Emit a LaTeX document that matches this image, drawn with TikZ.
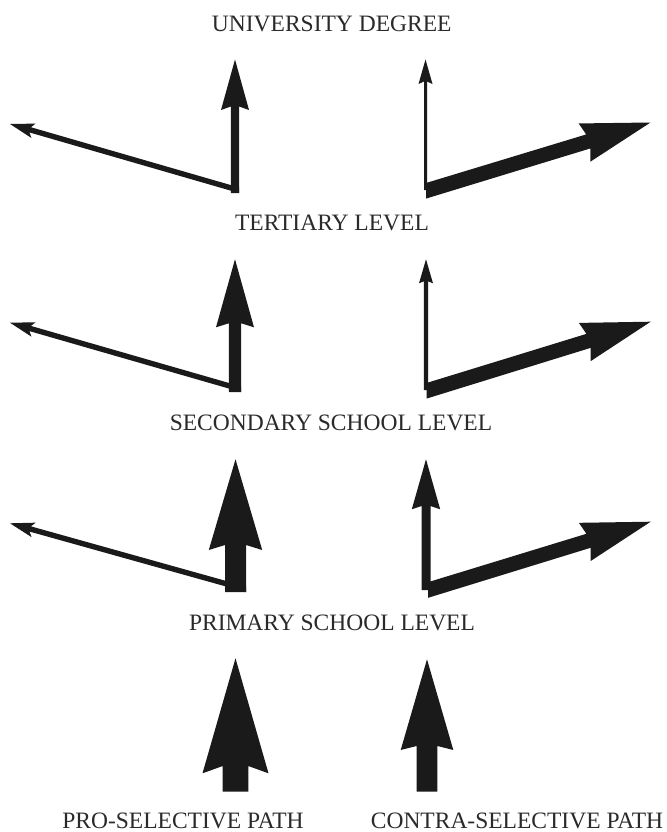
\documentclass[tikz,border=0pt]{standalone}
\usepackage{fontspec}
\setmainfont{Liberation Serif}
\usetikzlibrary{calc}
\definecolor{ink}{HTML}{1A1A1A}
\definecolor{txt}{HTML}{2A2A2A}
\tikzset{
  arrowfill/.style={fill=ink},
  lbl/.style={anchor=base, text=txt, inner sep=0pt, font=\fontsize{23.5bp}{28bp}\selectfont}
}
% vertical arrow: centre x, tip y, bottom y, shaft half-width, head half-width, notch length, barb length
\newcommand{\vertarrow}[7]{%
  \fill[arrowfill] ({#1-#4},#3) -- ({#1-#4},{#2+#6}) -- ({#1-#5},{#2+#7}) -- (#1,#2)
    -- ({#1+#5},{#2+#7}) -- ({#1+#4},{#2+#6}) -- ({#1+#4},#3) -- cycle;
}
% rightward slanted arrow: name, start, tip, vertical half-cut, shaft half-width, head half-width, notch length, barb length
\newcommand{\rarrow}[8]{%
  \coordinate (#1S) at #2;
  \coordinate (#1T) at #3;
  \coordinate (#1N) at ($(#1T)!#7bp!(#1S)$);
  \coordinate (#1C) at ($(#1T)!#8bp!(#1S)$);
  \fill[arrowfill] ($(#1S)+(0,-#4)$) -- ($(#1N)!#5bp!90:(#1T)$) -- ($(#1C)!#6bp!90:(#1T)$) -- (#1T)
    -- ($(#1C)!#6bp!-90:(#1T)$) -- ($(#1N)!#5bp!-90:(#1T)$) -- ($(#1S)+(0,#4)$) -- cycle;
}
% leftward slanted arrow
\newcommand{\larrow}[8]{%
  \coordinate (#1S) at #2;
  \coordinate (#1T) at #3;
  \coordinate (#1N) at ($(#1T)!#7bp!(#1S)$);
  \coordinate (#1C) at ($(#1T)!#8bp!(#1S)$);
  \fill[arrowfill] ($(#1S)+(0,-#4)$) -- ($(#1N)!#5bp!-90:(#1T)$) -- ($(#1C)!#6bp!-90:(#1T)$) -- (#1T)
    -- ($(#1C)!#6bp!90:(#1T)$) -- ($(#1N)!#5bp!90:(#1T)$) -- ($(#1S)+(0,#4)$) -- cycle;
}
\begin{document}
\begin{tikzpicture}[x=1bp,y=-1bp]
\fill[white] (0,0) rectangle (667,832);
\useasboundingbox (0,0) rectangle (667,832);

% labels
\node[lbl] (univ) at (331.7,31.5) {UNIVERSITY DEGREE};
\node[lbl] (tert) at (332,230) {TERTIARY LEVEL};
\node[lbl] (sec) at (331,430) {SECONDARY SCHOOL LEVEL};
\node[lbl] (prim) at (332,630) {PRIMARY SCHOOL LEVEL};
\node[lbl] (pro) at (183,828) {PRO-SELECTIVE PATH};
\node[lbl] (contra) at (517,828) {CONTRA-SELECTIVE PATH};

% row 1 (tertiary -> university)
\vertarrow{235}{59.5}{193}{4.2}{14}{47}{50.5}
\larrow{la}{(239.2,190.3)}{(10,124)}{2.8}{2.7}{7.5}{21}{24.5}
\vertarrow{425.5}{59.5}{190}{1.5}{7}{22}{24.5}
\rarrow{ra}{(426,190.8)}{(650.5,122.5)}{7.8}{7.3}{20}{65}{69}

% row 2 (secondary -> tertiary)
\vertarrow{235}{259.3}{392}{6.2}{19}{64}{68}
\larrow{lb}{(241.2,389.3)}{(10,322.7)}{2.8}{2.7}{7.5}{21}{24.5}
\vertarrow{426}{259.3}{390}{2.1}{7}{22}{24}
\rarrow{rb}{(426.5,390.8)}{(650.7,321.7)}{7.8}{7.3}{20}{65}{69}

% row 3 (primary -> secondary)
\vertarrow{235.5}{459.3}{592}{10.5}{26.7}{85.7}{90.7}
\larrow{lc}{(246,589.3)}{(10,523.3)}{2.8}{2.7}{7.5}{21}{24.5}
\vertarrow{426}{459.3}{590}{4.5}{14.2}{46.7}{50}
\rarrow{rc}{(428,590)}{(650.7,521.7)}{7.8}{7.3}{20}{65}{69}

% bottom (entry -> primary)
\vertarrow{235.5}{658.3}{791.7}{12.8}{33}{107.7}{115}
\vertarrow{427}{659.3}{791.7}{10.3}{26.3}{86.7}{90.7}
\end{tikzpicture}
\end{document}
